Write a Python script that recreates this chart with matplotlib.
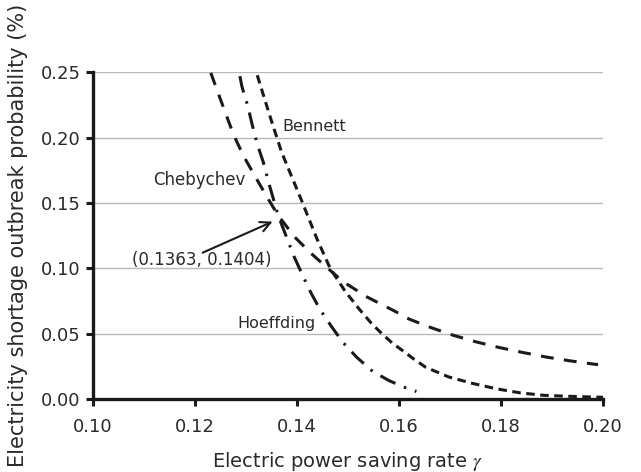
import matplotlib
matplotlib.use("Agg")
import matplotlib.pyplot as plt

plt.rcParams['font.family'] = ['DejaVu Sans']
plt.rcParams['mathtext.fontset'] = 'stix'

# Chebychev bound (long dashes)
cheb_x = [0.1231, 0.1244, 0.1260, 0.1276, 0.1295, 0.1319, 0.1345, 0.1363, 0.1395,
          0.1427, 0.1463, 0.1491, 0.1537, 0.1592, 0.1620, 0.1662, 0.1705, 0.1750,
          0.1796, 0.1841, 0.1888, 0.1933, 0.1979, 0.1990]
cheb_y = [0.2495, 0.2355, 0.2185, 0.2018, 0.1860, 0.1694, 0.1520, 0.1404, 0.1240,
          0.1115, 0.0990, 0.0895, 0.0780, 0.0670, 0.0610, 0.0546, 0.0488, 0.0437,
          0.0393, 0.0356, 0.0320, 0.0292, 0.0267, 0.0262]

# Hoeffding bound (dash-dot)
hoef_x = [0.1288, 0.1292, 0.1303, 0.1312, 0.1322, 0.1334, 0.1344, 0.1363, 0.1394,
          0.1410, 0.1427, 0.1445, 0.1468, 0.1490, 0.1517, 0.1548, 0.1580, 0.1610, 0.1634]
hoef_y = [0.2470, 0.2390, 0.2248, 0.2100, 0.1950, 0.1810, 0.1660, 0.1404, 0.1090,
          0.0953, 0.0813, 0.0684, 0.0551, 0.0432, 0.0318, 0.0211, 0.0140, 0.0089, 0.0056]

# Bennett bound (short dashes)
benn_x = [0.1322, 0.1348, 0.1370, 0.1409, 0.1439, 0.1465, 0.1494, 0.1522, 0.1546,
          0.1566, 0.1586, 0.1608, 0.1627, 0.1652, 0.1697, 0.1743, 0.1792, 0.1837,
          0.1883, 0.1922, 0.1970, 0.2000]
benn_y = [0.2477, 0.2150, 0.1885, 0.1517, 0.1225, 0.0998, 0.0825, 0.0686, 0.0577,
          0.0500, 0.0429, 0.0366, 0.0310, 0.0242, 0.0168, 0.0119, 0.0076, 0.0046,
          0.0027, 0.0021, 0.0015, 0.0012]

x_ticks = [0.10, 0.12, 0.14, 0.16, 0.18, 0.20]
y_ticks = [0.00, 0.05, 0.10, 0.15, 0.20, 0.25]

intersect = (0.1363, 0.1404)

fig = plt.figure(figsize=(6.41, 4.72), dpi=100)
ax = fig.add_axes([0.145, 0.155, 0.796, 0.692])

ink = '#1a1a1a'
txt = '#2a2a2a'
lw = 2.2
ax.plot(cheb_x, cheb_y, color=ink, lw=lw, linestyle=(0, (4.2, 3.4)), zorder=3)
ax.plot(benn_x, benn_y, color=ink, lw=lw, linestyle=(0, (2.8, 1.8)), zorder=3)
ax.plot(hoef_x, hoef_y, color=ink, lw=lw, linestyle=(0, (5.5, 3.0, 0.8, 3.0)), zorder=3)

ax.set_xlim(0.10, 0.20)
ax.set_ylim(0.0, 0.25)
ax.set_xticks(x_ticks)
ax.set_yticks(y_ticks)
ax.set_xticklabels([f"{v:.2f}" for v in x_ticks])
ax.set_yticklabels([f"{v:.2f}" for v in y_ticks])

ax.yaxis.grid(True, color='#b8b8b8', lw=1.0)
ax.set_axisbelow(True)
for s in ['top', 'right']:
    ax.spines[s].set_visible(False)
for s in ['left', 'bottom']:
    ax.spines[s].set_linewidth(2.4)
    ax.spines[s].set_color(ink)

ax.tick_params(axis='both', direction='out', length=5, width=2.2, color=ink,
               labelsize=13, labelcolor=txt)
ax.tick_params(axis='x', pad=9)
ax.tick_params(axis='y', pad=4)

ax.set_xlabel(r"Electric power saving rate $\gamma$", fontsize=14, color=txt, labelpad=10)
ax.set_ylabel("Electricity shortage outbreak probability (%)", fontsize=15,
              color=txt, labelpad=9)

tfs = 11.5
ax.text(0.1371, 0.2088, "Bennett", fontsize=tfs, color=txt, va='center', ha='left')
ax.text(0.1118, 0.1677, "Chebychev", fontsize=12, color=txt, va='center', ha='left')
ax.text(0.1284, 0.0580, "Hoeffding", fontsize=tfs, color=txt, va='center', ha='left')
ax.text(0.1076, 0.1060, f"({intersect[0]}, {intersect[1]})", fontsize=12,
        color=txt, va='center', ha='left')
ax.annotate("", xy=(0.1357, 0.1365), xytext=(0.1210, 0.1110),
            arrowprops=dict(arrowstyle='->', color=ink, lw=1.5, mutation_scale=18))

fig.savefig("out.png", dpi=100)
